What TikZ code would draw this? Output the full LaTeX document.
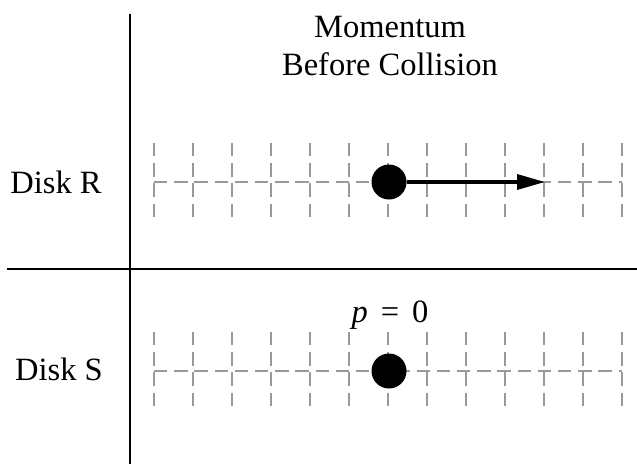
\documentclass[tikz,border=0pt]{standalone}
\usepackage{fontspec}
\setmainfont{Liberation Serif}
\usetikzlibrary{positioning,arrows.meta}

\begin{document}
\begin{tikzpicture}[x=1pt,y=-1pt,
        axis/.style={line width=2pt},
        gridline/.style={
            gray!80,
            line width=1.3pt,
            dash pattern=on 13.3pt off 6.9pt
        },
        disk/.style={
            circle,
            fill=black,
            minimum size=35pt,
            inner sep=0pt
        },
        txt/.style={
            font=\fontsize{32.5}{38}\selectfont,
            inner sep=0pt,
            align=center
        },
        momentum/.style={-{Triangle[length=28pt,width=15pt]}, line width=3.5pt}
    ]
        \useasboundingbox (0,0) rectangle (637,464);
        % axes
        \draw[axis] (130,14) -- (130,464);
        \draw[axis] (7,269) -- (637,269);
        % dashed grids behind the disks
        \foreach \row in {182,371} {
            \foreach \i in {0,...,12}
                \draw[gridline] (154+39*\i,\row-39) -- (154+39*\i,\row+35);
            \draw[gridline] (154,\row) -- (622,\row);
        }
        \node[txt, anchor=base] (title) at (390,75) {Momentum\\Before Collision};
        \node[txt, anchor=base] (nameR) at (56,193) {Disk R};
        \node[txt, anchor=base] (nameS) at (59,380) {Disk S};

        \node[disk] (diskR) at (389,182) {};
        \node[disk] (diskS) at (389,371) {};
        \node[txt, anchor=base] (pS) at (390,322) {\textit{p}\hspace{0.4em}=\hspace{0.4em}0};

        \coordinate (pR) at (545,182);
        \draw[momentum] (diskR) -- (pR);
    \end{tikzpicture}
\end{document}
